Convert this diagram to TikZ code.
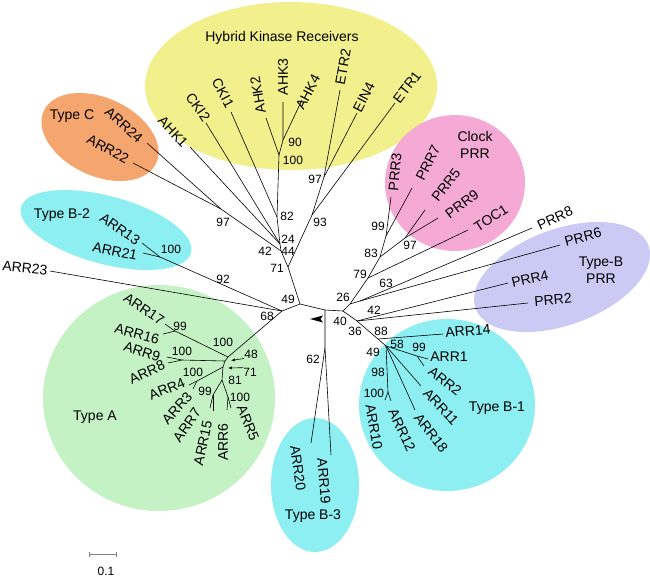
\documentclass[tikz,border=0pt]{standalone}
\usepackage{fontspec}
\setmainfont{Liberation Sans}
\usetikzlibrary{arrows.meta}
\definecolor{hkyellow}{RGB}{242,240,140}
\definecolor{tcorange}{RGB}{245,166,110}
\definecolor{tbcyan}{RGB}{141,239,242}
\definecolor{tagreen}{RGB}{197,242,197}
\definecolor{clpink}{RGB}{245,170,213}
\definecolor{prlav}{RGB}{202,202,245}
\begin{document}
\begin{tikzpicture}[x=1pt,y=-1pt,
  leaf/.style={inner sep=0pt,font=\fontsize{14}{17}\selectfont},
  boot/.style={inner sep=0pt,font=\fontsize{12}{14}\selectfont},
  group/.style={inner sep=0pt,align=center,font=\fontsize{14}{17}\selectfont},
  br/.style={line width=0.6pt},
  ptr/.style={line width=0.6pt,-{Latex[length=4pt,width=3pt]}}]
\useasboundingbox (0,0) rectangle (650,579);
\fill[hkyellow] (291,86) ellipse [x radius=146pt,y radius=84pt];
\fill[tcorange,rotate around={-25:(100,137)}] (100,137) ellipse [x radius=62pt,y radius=39pt];
\fill[tbcyan,rotate around={-15:(106,230)}] (106,230) ellipse [x radius=88pt,y radius=34pt];
\fill[tagreen] (159,398) ellipse [x radius=116pt,y radius=113pt];
\fill[tbcyan] (315,485) ellipse [x radius=44pt,y radius=67pt];
\fill[tbcyan] (447,405) ellipse [x radius=88pt,y radius=86pt];
\fill[clpink] (455,183) ellipse [x radius=70pt,y radius=68pt];
\fill[prlav,rotate around={20:(562,277)}] (562,277) ellipse [x radius=92pt,y radius=48pt];
\node[group] (gHK) at (282,38) {Hybrid Kinase Receivers};
\node[group] (gTC) at (72,116) {Type C};
\node[group] (gB2) at (62,215) {Type B-2};
\node[group] (gTA) at (95,417) {Type A};
\node[group] (gB3) at (313,516) {Type B-3};
\node[group] (gB1) at (497,408) {Type B-1};
\node[group] (gCL) at (475,145) {Clock\\PRR};
\node[group] (gBP) at (601,270) {Type-B\\PRR};
\coordinate (nA) at (300,304);
\coordinate (nB) at (325,310);
\coordinate (nC) at (343,311);
\coordinate (nD) at (282,311);
\coordinate (n71) at (288,267);
\coordinate (n44) at (281,251);
\coordinate (n24) at (280,244);
\coordinate (n82) at (277,217);
\coordinate (n100h) at (279,155);
\coordinate (n90) at (283,140);
\coordinate (tAHK1) at (190,147);
\coordinate (tCKI2) at (206,123);
\coordinate (tCKI1) at (231,112);
\coordinate (tAHK2) at (266,118);
\coordinate (tAHK3) at (283,102);
\coordinate (tAHK4) at (302,100);
\coordinate (nC97) at (221,209);
\coordinate (tARR24) at (147,143);
\coordinate (tARR22) at (133,163);
\coordinate (n93) at (312,215);
\coordinate (n97h) at (324,177);
\coordinate (tETR2) at (340,90);
\coordinate (tEIN4) at (357,113);
\coordinate (tETR1) at (395,103);
\coordinate (nB2) at (160,257);
\coordinate (tARR13) at (142,243);
\coordinate (tARR21) at (143,253);
\coordinate (tARR23) at (50,271);
\coordinate (nA1) at (228,357);
\coordinate (nA2) at (225,361);
\coordinate (nA3) at (223,367);
\coordinate (nA81) at (222,380);
\coordinate (nA17) at (175,331);
\coordinate (tARR17) at (165,324);
\coordinate (tARR16) at (163,334);
\coordinate (nA9) at (182,360);
\coordinate (tARR9) at (167,357);
\coordinate (tARR8) at (168,363);
\coordinate (nA4) at (197,381);
\coordinate (tARR4) at (189,385);
\coordinate (tARR3) at (193,389);
\coordinate (nA715) at (213,395);
\coordinate (tARR7) at (210,408);
\coordinate (tARR15) at (213,411);
\coordinate (nA65) at (228,397);
\coordinate (tARR6) at (227,410);
\coordinate (tARR5) at (231,408);
\coordinate (n62) at (325,348);
\coordinate (tARR20) at (311,443);
\coordinate (tARR19) at (331,455);
\coordinate (n26) at (350,304);
\coordinate (n79) at (368,278);
\coordinate (n83) at (380,257);
\coordinate (n99p) at (386,236);
\coordinate (tPRR3) at (391,197);
\coordinate (tPRR7) at (412,188);
\coordinate (n97p) at (405,238);
\coordinate (tPRR5) at (425,210);
\coordinate (tPRR9) at (438,218);
\coordinate (tTOC1) at (468,230);
\coordinate (n63) at (360,301);
\coordinate (tPRR8) at (532,228);
\coordinate (tPRR6) at (560,245);
\coordinate (n42) at (357,321);
\coordinate (tPRR4) at (508,283);
\coordinate (tPRR2) at (528,303);
\coordinate (n88) at (378,339);
\coordinate (tARR14) at (443,334);
\coordinate (nB1) at (386,346);
\coordinate (n99b) at (417,356);
\coordinate (tARR1) at (428,359);
\coordinate (tARR2) at (424,366);
\coordinate (tARR11) at (421,386);
\coordinate (tARR18) at (415,410);
\coordinate (n100b) at (388,392);
\coordinate (tARR10) at (385,400);
\coordinate (tARR12) at (391,401);
\draw[br] (nD) -- (nA) -- (nB) -- (nC);
\draw[br] (nA) -- (n71) -- (n44) -- (n24) -- (n82) -- (n100h) -- (n90) -- (tAHK3);
\draw[br] (n90) -- (tAHK4);
\draw[br] (n100h) -- (tAHK2);
\draw[br] (n82) -- (tCKI1);
\draw[br] (n24) -- (tCKI2);
\draw[br] (n24) -- (tAHK1);
\draw[br] (n44) -- (nC97) -- (tARR24);
\draw[br] (nC97) -- (tARR22);
\draw[br] (n71) -- (n93) -- (n97h) -- (tETR2);
\draw[br] (n97h) -- (tEIN4);
\draw[br] (n93) -- (tETR1);
\draw[br] (nD) -- (nB2) -- (tARR13);
\draw[br] (nB2) -- (tARR21);
\draw[br] (nD) -- (tARR23);
\draw[br] (nD) -- (nA1) -- (nA17) -- (tARR17);
\draw[br] (nA17) -- (tARR16);
\draw[br] (nA1) -- (nA2) -- (nA9) -- (tARR9);
\draw[br] (nA9) -- (tARR8);
\draw[br] (nA2) -- (nA3) -- (nA81) -- (nA715) -- (tARR7);
\draw[br] (nA715) -- (tARR15);
\draw[br] (nA81) -- (nA65) -- (tARR6);
\draw[br] (nA65) -- (tARR5);
\draw[br] (nA3) -- (nA4) -- (tARR4);
\draw[br] (nA4) -- (tARR3);
\draw[br] (nB) -- (n62) -- (tARR20);
\draw[br] (n62) -- (tARR19);
\draw[br] (nC) -- (n26) -- (n79) -- (n83) -- (n99p) -- (tPRR3);
\draw[br] (n99p) -- (tPRR7);
\draw[br] (n83) -- (n97p) -- (tPRR5);
\draw[br] (n97p) -- (tPRR9);
\draw[br] (n79) -- (tTOC1);
\draw[br] (n26) -- (n63) -- (tPRR8);
\draw[br] (n63) -- (tPRR6);
\draw[br] (nC) -- (n42) -- (tPRR4);
\draw[br] (n42) -- (tPRR2);
\draw[br] (n42) -- (n88) -- (tARR14);
\draw[br] (n88) -- (nB1) -- (n99b) -- (tARR1);
\draw[br] (n99b) -- (tARR2);
\draw[br] (nB1) -- (tARR11);
\draw[br] (nB1) -- (tARR18);
\draw[br] (nB1) -- (n100b) -- (tARR10);
\draw[br] (n100b) -- (tARR12);
\fill (310,319) -- (323,315.5) -- (320.5,319) -- (323,322.5) -- cycle;
\node[leaf,rotate=-47] (lAHK1) at (173,132) {AHK1};
\node[leaf,rotate=-55] (lCKI2) at (198,107) {CKI2};
\node[leaf,rotate=-62] (lCKI1) at (223,93) {CKI1};
\node[leaf,rotate=100] (lAHK2) at (258,95) {AHK2};
\node[leaf,rotate=90] (lAHK3) at (283,77) {AHK3};
\node[leaf,rotate=62] (lAHK4) at (308,92) {AHK4};
\node[leaf,rotate=80] (lETR2) at (343,67) {ETR2};
\node[leaf,rotate=63] (lEIN4) at (364,97) {EIN4};
\node[leaf,rotate=52] (lETR1) at (407,87) {ETR1};
\node[leaf,rotate=-42] (lARR24) at (124,125) {ARR24};
\node[leaf,rotate=-28] (lARR22) at (108,149) {ARR22};
\node[leaf,rotate=-35] (lARR13) at (120,229) {ARR13};
\node[leaf,rotate=-12] (lARR21) at (115,251) {ARR21};
\node[leaf,rotate=-6] (lARR23) at (25,268) {ARR23};
\node[leaf,rotate=-34] (lARR17) at (144,309) {ARR17};
\node[leaf,rotate=-15] (lARR16) at (137,334) {ARR16};
\node[leaf,rotate=-18] (lARR9) at (142,352) {ARR9};
\node[leaf,rotate=24] (lARR8) at (147,372) {ARR8};
\node[leaf,rotate=22] (lARR4) at (167,389) {ARR4};
\node[leaf,rotate=48] (lARR3) at (177,408) {ARR3};
\node[leaf,rotate=55] (lARR7) at (187,425) {ARR7};
\node[leaf,rotate=78] (lARR15) at (203,443) {ARR15};
\node[leaf,rotate=90] (lARR6) at (223,442) {ARR6};
\node[leaf,rotate=-68] (lARR5) at (248,423) {ARR5};
\node[leaf,rotate=-82] (lARR20) at (298,468) {ARR20};
\node[leaf,rotate=-85] (lARR19) at (324,481) {ARR19};
\node[leaf,rotate=-80] (lARR10) at (374,427) {ARR10};
\node[leaf,rotate=-65] (lARR12) at (402,430) {ARR12};
\node[leaf,rotate=-52] (lARR18) at (431,433) {ARR18};
\node[leaf,rotate=-47] (lARR11) at (441,407) {ARR11};
\node[leaf,rotate=-38] (lARR2) at (445,381) {ARR2};
\node[leaf] (lARR1) at (449,357) {ARR1};
\node[leaf,rotate=5] (lARR14) at (468,331) {ARR14};
\node[leaf,rotate=5] (lPRR2) at (553,300) {PRR2};
\node[leaf,rotate=13] (lPRR4) at (530,279) {PRR4};
\node[leaf,rotate=15] (lPRR6) at (583,237) {PRR6};
\node[leaf,rotate=25] (lPRR8) at (555,218) {PRR8};
\node[leaf,rotate=33] (lTOC1) at (491,218) {TOC1};
\node[leaf,rotate=37] (lPRR9) at (462,204) {PRR9};
\node[leaf,rotate=52] (lPRR5) at (446,185) {PRR5};
\node[leaf,rotate=63] (lPRR7) at (428,163) {PRR7};
\node[leaf,rotate=85] (lPRR3) at (395,172) {PRR3};
\node[boot] (b90) at (295,142) {90};
\node[boot] (b100h) at (293,160) {100};
\node[boot] (b82) at (287,216) {82};
\node[boot] (b24) at (288,239) {24};
\node[boot] (b44) at (288,251) {44};
\node[boot] (b42h) at (265,251) {42};
\node[boot] (b97c) at (223,222) {97};
\node[boot] (b93) at (320,222) {93};
\node[boot] (b97h) at (315,179) {97};
\node[boot] (b71) at (277,268) {71};
\node[boot] (b100c) at (171,249) {100};
\node[boot] (b92) at (223,279) {92};
\node[boot] (b68) at (267,316) {68};
\node[boot] (b49) at (288,299) {49};
\node[boot] (b99a) at (180,326) {99};
\node[boot] (b100a) at (223,342) {100};
\node[boot] (b100a9) at (182,351) {100};
\node[boot] (b48) at (251,354) {48};
\node[boot] (b71a) at (250,372) {71};
\node[boot] (b81) at (235,380) {81};
\node[boot] (b100a4) at (193,372) {100};
\node[boot] (b99a7) at (205,391) {99};
\node[boot] (b100a6) at (240,397) {100};
\node[boot] (b62) at (313,359) {62};
\node[boot] (b99p) at (378,226) {99};
\node[boot] (b83) at (371,253) {83};
\node[boot] (b97p) at (410,245) {97};
\node[boot] (b79) at (360,274) {79};
\node[boot] (b63) at (386,283) {63};
\node[boot] (b26) at (343,297) {26};
\node[boot] (b42p) at (374,310) {42};
\node[boot] (b40) at (340,321) {40};
\node[boot] (b36) at (355,331) {36};
\node[boot] (b88) at (381,331) {88};
\node[boot] (b58) at (397,344) {58};
\node[boot] (b99b) at (419,347) {99};
\node[boot] (b49b) at (373,352) {49};
\node[boot] (b98) at (378,372) {98};
\node[boot] (b100b) at (374,393) {100};
\coordinate (p48) at (231,360.5);
\coordinate (p71) at (228,368);
\draw[ptr] (b48.south west) -- (p48);
\draw[ptr] (b71a.north west) -- (p71);
\coordinate (sbL) at (89,554);
\coordinate (sbR) at (116,554);
\draw[br,gray] (sbL) -- (sbR);
\draw[br,gray] ([yshift=-2.5pt]sbL) -- ([yshift=2.5pt]sbL);
\draw[br,gray] ([yshift=-2.5pt]sbR) -- ([yshift=2.5pt]sbR);
\node[boot] (sbT) at (106,571) {0.1};
\end{tikzpicture}
\end{document}
